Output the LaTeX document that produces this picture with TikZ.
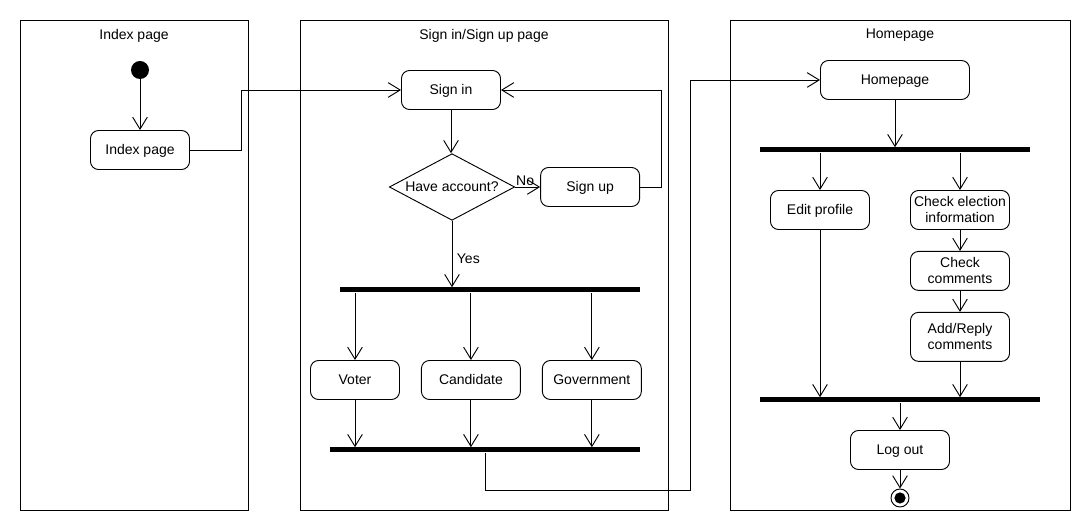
\documentclass[tikz,border=0pt]{standalone}
\usepackage{fontspec}
\setmainfont{Liberation Sans}
\usepackage{tikz}
\usetikzlibrary{positioning,arrows.meta,shapes.geometric}
\tikzset{
  line/.style={-{Straight Barb[length=9pt,width=11pt]}, line width=0.7pt},
  box/.style={draw, line width=0.7pt, rounded corners=6pt, align=center, inner sep=1.5pt,
    minimum width=74.25pt, minimum height=29.25pt, text depth=0.6pt},
  narrowbox/.style={box, minimum width=66.75pt},
  widebox/.style={box, minimum width=111.75pt},
  tallbox/.style={box, minimum height=36.75pt},
  decision/.style={draw, line width=0.7pt, diamond, aspect=1.87, inner sep=0pt,
    minimum width=94pt, minimum height=50pt},
  bar/.style={fill=black, inner sep=0pt, minimum height=3.75pt},
  panel/.style={draw, line width=0.7pt, minimum height=367.5pt, inner sep=0pt},
  title/.style={inner sep=3pt},
  startnode/.style={circle, fill=black, inner sep=0pt, minimum size=13.5pt},
  endnode/.style={circle, draw, line width=0.7pt, inner sep=0pt, minimum size=13.5pt,
    path picture={\fill (path picture bounding box.center) circle (4.2pt);}}
}
\begin{document}
\begin{tikzpicture}[x=0.75pt, y=-0.75pt, font=\fontsize{10.5}{12.5}\selectfont]
  \useasboundingbox (0,0) rectangle (1090,530);

  % swimlanes
  \node[panel, minimum width=171pt] (lane1) at (134,265) {};
  \node[panel, minimum width=276pt] (lane2) at (484,265) {};
  \node[panel, minimum width=255pt] (lane3) at (900,265) {};
  \node[title, below=4pt of lane1.north] {Index page};
  \node[title, below=4pt of lane2.north] {Sign in/Sign up page};
  \node[title, below=4pt of lane3.north] {Homepage};

  % index page
  \node[startnode] (start) at (140,70) {};
  \node[box] (index) at (140,150) {Index page};

  % sign in / sign up
  \node[box] (signin) at (451,90) {Sign in};
  \node[decision] (account) at (452,187) {Have account?};
  \node[box, right=18.75pt of account] (signup) {Sign up};
  \node[bar, minimum width=225pt] (fork1) at (490,290) {};
  \node[narrowbox] (voter) at (355,380) {Voter};
  \node[box, right=15.75pt of voter] (candidate) {Candidate};
  \node[box, right=15.75pt of candidate] (government) {Government};
  \node[bar, minimum width=232.5pt] (join1) at (485,450) {};

  % homepage
  \node[widebox] (homepage) at (895,80) {Homepage};
  \node[bar, minimum width=202.5pt] (fork2) at (895,150) {};
  \node[box] (edit) at (820,210) {Edit profile};
  \node[box] (checkinfo) at (960,210) {Check election\\information};
  \node[box, below=15.75pt of checkinfo] (checkcom) {Check\\comments};
  \node[tallbox, below=15.75pt of checkcom] (addreply) {Add/Reply\\comments};
  \node[bar, minimum width=210pt] (join2) at (900,400) {};
  \node[box] (logout) at (900,450) {Log out};
  \node[endnode] (end) at (900,498) {};

  \draw[line] (start) -- (index);
  \draw[line] (index.east) -- ++(51,0) |- (signin.west);
  \draw[line] (signin.south) -- (signin.south |- account.north);
  \draw[line] (account) -- node[above, pos=0.4, inner sep=0.5pt] {No} (signup);
  \draw[line] (signup.east) -- ++(21,0) |- (signin.east);
  \draw[line] (account.south) -- node[right, pos=0.57] {Yes} (account.south |- fork1.north);
  \foreach \role in {voter,candidate,government} {
    \draw[line] (fork1.south -| \role.north) -- (\role.north);
    \draw[line] (\role.south) -- (\role.south |- join1.north);
  }
  \draw[line] (join1.south) |- ++(205,38) |- (homepage.west);

  \draw[line] (homepage.south) -- (homepage.south |- fork2.north);
  \draw[line] (fork2.south -| edit.north) -- (edit.north);
  \draw[line] (fork2.south -| checkinfo.north) -- (checkinfo.north);
  \draw[line] (checkinfo) -- (checkcom);
  \draw[line] (checkcom) -- (addreply);
  \draw[line] (edit.south) -- (edit.south |- join2.north);
  \draw[line] (addreply.south) -- (addreply.south |- join2.north);
  \draw[line] (join2.south) -- (logout.north);
  \draw[line] (logout) -- (end);
\end{tikzpicture}
\end{document}
